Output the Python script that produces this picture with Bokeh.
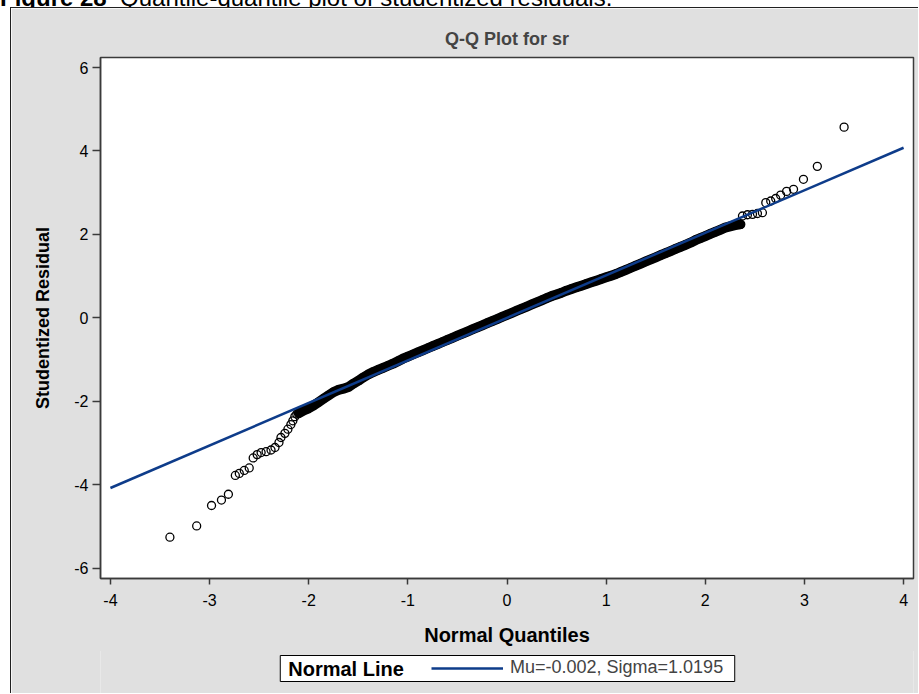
from bokeh.plotting import figure
from bokeh.models import (Legend, LegendItem, Range1d, FixedTicker, Div, Label,
                          BoxAnnotation, Title)
from bokeh.layouts import column
from bokeh.embed import file_html
from bokeh.resources import INLINE

# Normal quantiles (x) and sorted studentized residuals (y)
lower_qx = [-3.40, -3.13, -2.98, -2.88, -2.81, -2.74, -2.70, -2.65, -2.60, -2.56,
            -2.52, -2.48, -2.43, -2.38, -2.34, -2.30, -2.28, -2.24, -2.21, -2.18,
            -2.16, -2.14, -2.12]
lower_sr = [-5.26, -4.99, -4.50, -4.37, -4.23, -3.78, -3.73, -3.66, -3.60, -3.36,
            -3.28, -3.23, -3.21, -3.17, -3.11, -2.99, -2.87, -2.77, -2.67, -2.56,
            -2.47, -2.37, -2.31]

bulk_qx = [-2.10, -2.05, -2.00, -1.95, -1.90, -1.85, -1.80, -1.75, -1.70, -1.65,
           -1.60, -1.55, -1.50, -1.45, -1.40, -1.35, -1.30, -1.25, -1.20, -1.15,
           -1.10, -1.05, -1.00, -0.95, -0.90, -0.85, -0.80, -0.75, -0.70, -0.65,
           -0.60, -0.55, -0.50, -0.45, -0.40, -0.35, -0.30, -0.25, -0.20, -0.15,
           -0.10, -0.05, 0.00, 0.05, 0.10, 0.15, 0.20, 0.25, 0.30, 0.35,
           0.40, 0.45, 0.50, 0.55, 0.60, 0.65, 0.70, 0.75, 0.80, 0.85,
           0.90, 0.95, 1.00, 1.05, 1.10, 1.15, 1.20, 1.25, 1.30, 1.35,
           1.40, 1.45, 1.50, 1.55, 1.60, 1.65, 1.70, 1.75, 1.80, 1.85,
           1.90, 1.95, 2.00, 2.05, 2.10, 2.15, 2.20, 2.25, 2.30, 2.35]
bulk_sr = [-2.29, -2.22, -2.17, -2.10, -2.02, -1.94, -1.86, -1.78, -1.73, -1.70,
           -1.66, -1.58, -1.51, -1.43, -1.36, -1.30, -1.25, -1.20, -1.15, -1.10,
           -1.04, -0.98, -0.93, -0.88, -0.83, -0.78, -0.73, -0.68, -0.63, -0.58,
           -0.53, -0.48, -0.43, -0.38, -0.33, -0.28, -0.23, -0.18, -0.13, -0.08,
           -0.03, 0.02, 0.07, 0.12, 0.17, 0.22, 0.27, 0.32, 0.37, 0.42,
           0.47, 0.52, 0.56, 0.60, 0.65, 0.69, 0.73, 0.77, 0.81, 0.85,
           0.89, 0.93, 0.97, 1.01, 1.05, 1.10, 1.15, 1.20, 1.25, 1.30,
           1.35, 1.40, 1.45, 1.50, 1.55, 1.60, 1.65, 1.70, 1.75, 1.80,
           1.86, 1.91, 1.96, 2.01, 2.06, 2.11, 2.16, 2.19, 2.22, 2.24]

upper_qx = [2.358, 2.375, 2.425, 2.476, 2.526, 2.576, 2.61, 2.66, 2.71, 2.76,
            2.82, 2.89, 2.99, 3.13, 3.40]
upper_sr = [2.24, 2.44, 2.47, 2.48, 2.50, 2.52, 2.76, 2.80, 2.86, 2.94,
            3.03, 3.08, 3.32, 3.63, 4.57]

# Fitted normal reference line
mu = -0.002
sigma = 1.0195
fit_x = [-4, 4]

x_ticks = [-4, -3, -2, -1, 0, 1, 2, 3, 4]
y_ticks = [-6, -4, -2, 0, 2, 4, 6]

PANEL = "#E0E0E0"
FRAME = "#3A3A3A"
EDGE = "1px solid #202020"
FIT_BLUE = "#0E3C8A"
FONT = "Liberation Sans"

qx = lower_qx + bulk_qx + upper_qx
sr = lower_sr + bulk_sr + upper_sr
fit_y = [mu + sigma * v for v in fit_x]

# ---- main Q-Q panel ----
p = figure(width=908, height=644, output_backend="svg", toolbar_location=None,
           x_range=Range1d(-4.1, 4.1), y_range=Range1d(-6.25, 6.24),
           min_border_left=88, min_border_right=6, min_border_top=49,
           min_border_bottom=74,
           border_fill_color=PANEL, background_fill_color="white",
           outline_line_color=FRAME, outline_line_width=1.5,
           margin=(0, 0, 0, 10),
           styles={"border-left": EDGE, "border-top": EDGE})
p.grid.visible = False

p.title.text = "Q-Q Plot for sr"
p.title.align = "center"
p.title.text_font = FONT
p.title.text_font_size = "18px"
p.title.text_font_style = "bold"
p.title.standoff = 17

for ax, ticks in ((p.xaxis[0], x_ticks), (p.yaxis[0], y_ticks)):
    ax.ticker = FixedTicker(ticks=ticks)
    ax.major_label_overrides = {t: str(t) for t in ticks}
    ax.minor_tick_line_color = None
    ax.major_tick_in = 0
    ax.major_tick_line_color = FRAME
    ax.major_tick_line_width = 1.5
    ax.axis_line_color = FRAME
    ax.axis_line_width = 1.5
    ax.major_label_text_font = FONT
    ax.major_label_text_font_size = "16px"
    ax.major_label_text_color = "black"

p.xaxis.axis_label = "Normal Quantiles"
p.xaxis.axis_label_text_font = FONT
p.xaxis.axis_label_text_font_style = "bold"
p.xaxis.axis_label_text_color = "black"
p.xaxis.axis_label_text_font_size = "20px"
p.xaxis.major_tick_out = 6
p.xaxis.major_label_standoff = 9
p.xaxis.axis_label_standoff = 15
p.yaxis.major_tick_out = 8
p.yaxis.major_label_standoff = 4

# vertical axis title, set a little above the frame's middle
p.add_layout(Title(text="Studentized Residual", align="center", offset=16,
                   standoff=38, text_font=FONT, text_font_size="18px",
                   text_font_style="bold", text_color="black"), "left")

# heavy overlap of markers in the bulk reads as a solid band
p.line(bulk_qx, bulk_sr, line_color="black", line_width=10,
       line_join="round", line_cap="round")
p.scatter(qx, sr, marker="circle", size=8, line_color="black",
          line_width=1.3, fill_color=None)
p.line(fit_x, fit_y, line_color=FIT_BLUE, line_width=2.5)

# ---- legend strip below the panel (coordinates in pixels) ----
leg = figure(width=908, height=43, output_backend="svg", toolbar_location=None,
             x_range=Range1d(0, 814), y_range=Range1d(0, 43),
             x_axis_type=None, y_axis_type=None,
             min_border_left=88, min_border_right=6,
             min_border_top=0, min_border_bottom=0,
             border_fill_color=PANEL, background_fill_color=PANEL,
             outline_line_color=None,
             margin=(-1, 0, 0, 10), styles={"border-left": EDGE})
leg.grid.visible = False
leg.add_layout(BoxAnnotation(left=180, right=635, bottom=12, top=38,
                             fill_color="white", fill_alpha=1.0,
                             line_color="black", line_width=1, line_alpha=1.0))
leg.add_layout(Label(x=188, y=25, text="Normal Line", text_font=FONT,
                     text_font_size="20px", text_font_style="bold",
                     text_baseline="middle", text_color="black"))
# a one-point line draws nothing itself but carries the legend key style
fit_key = leg.line(fit_x[:1], fit_y[:1], line_color=FIT_BLUE, line_width=2.5)
leg.add_layout(Legend(
    items=[LegendItem(label=f"Mu={mu:g}, Sigma={sigma:g}", renderers=[fit_key])],
    location=(331, 15), orientation="horizontal",
    label_text_font=FONT, label_text_font_size="18px",
    glyph_width=72, glyph_height=20, label_height=20, label_standoff=7,
    padding=0, margin=0, spacing=0,
    border_line_color=None, background_fill_alpha=0.0,
), "center")

caption = Div(
    text=('<div style="position:relative; top:-14px; white-space:nowrap; '
          'font-family:\'Liberation Sans\', Arial, sans-serif; font-size:24px; '
          'line-height:24px; color:#000;"><b>Figure 28</b>&nbsp; '
          'Quantile-quantile plot of studentized residuals.</div>'),
    width=919, height=7, margin=(0, 0, 0, 0),
    styles={"overflow": "hidden"})

layout = column(caption, p, leg, spacing=0)

open("out.html", "w").write(file_html(layout, INLINE))
